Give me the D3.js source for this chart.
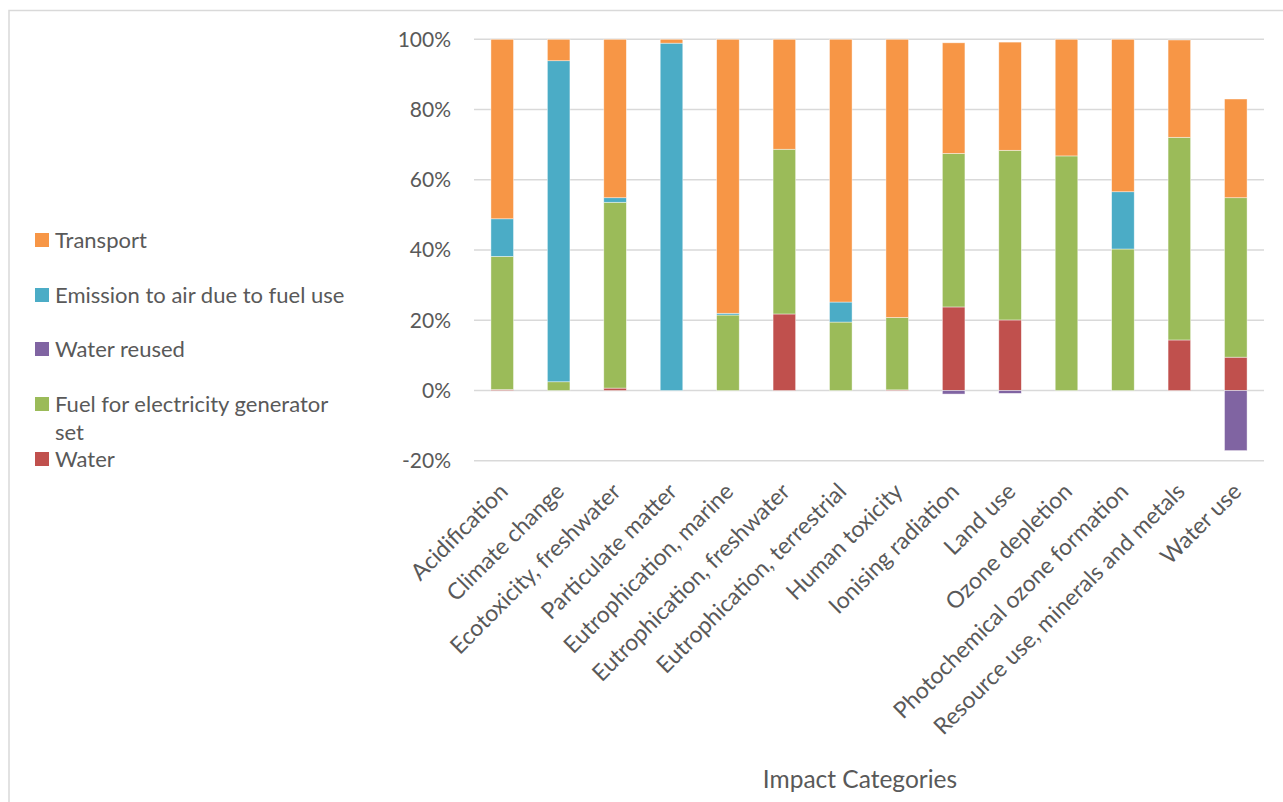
<!DOCTYPE html>
<html>
<head>
<meta charset="utf-8">
<script src="https://cdn.jsdelivr.net/npm/d3@7"></script>
<style>
  body { margin: 0; background: #fff; }
  svg text { font-family: Lato, "Open Sans", sans-serif; fill: #595959; }
</style>
</head>
<body>
<svg id="chart"></svg>
<script>
// impact categories (x axis)
var categories = ["Acidification", "Climate change", "Ecotoxicity, freshwater", "Particulate matter",
  "Eutrophication, marine", "Eutrophication, freshwater", "Eutrophication, terrestrial", "Human toxicity",
  "Ionising radiation", "Land use", "Ozone depletion", "Photochemical ozone formation",
  "Resource use, minerals and metals", "Water use"];

// contribution shares in %
var water       = [0.3, 0, 0.7, 0, 0, 21.8, 0, 0.2, 23.8, 20.1, 0, 0, 14.4, 9.5];
var fuel        = [37.9, 2.5, 52.9, 0, 21.5, 46.9, 19.5, 20.6, 43.7, 48.3, 66.8, 40.3, 57.7, 45.4];
var waterReused = [0, 0, 0, 0, 0, 0, 0, 0, -1.0, -0.8, 0, 0, 0, -17.1];
var emission    = [10.7, 91.4, 1.3, 98.9, 0.5, 0, 5.7, 0, 0, 0, 0, 16.3, 0, 0];
var transport   = [51.1, 6.1, 45.1, 1.1, 78.0, 31.3, 74.8, 79.2, 31.5, 30.8, 33.2, 43.4, 27.7, 28.1];

var seriesNames = ["Water", "Fuel for electricity generator set", "Water reused", "Emission to air due to fuel use", "Transport"];
var seriesColors = ["#C0504D", "#9BBB59", "#8064A2", "#4BACC6", "#F79646"];
var yTicks = [-20, 0, 20, 40, 60, 80, 100];

var width = 1283, height = 802;
var plotLeft = 474, plotRight = 1264;

var svg = d3.select("#chart").attr("width", width).attr("height", height);

// outer frame of the chart box
svg.append("path")
   .attr("d", "M9," + (height + 5) + " V10.5 H" + (width + 5))
   .attr("fill", "none")
   .attr("stroke", "#d9d9d9")
   .attr("stroke-width", 1.5);

// table for the stack
var rows = categories.map(function(c, i) {
  return { cat: c, s0: water[i], s1: fuel[i], s2: waterReused[i], s3: emission[i], s4: transport[i] };
});
var keys = ["s0", "s1", "s2", "s3", "s4"];
var stacked = d3.stack().keys(keys).offset(d3.stackOffsetDiverging)(rows);

var xScale = d3.scaleBand()
  .domain(categories)
  .range([plotLeft, plotRight])
  .paddingInner(0.6)
  .paddingOuter(0.3);

var yScale = d3.scaleLinear()
  .domain([-20, 100])
  .range([460.8, 39.3]);

// gridlines
svg.append("g")
   .selectAll("line")
   .data(yTicks)
   .enter()
   .append("line")
   .attr("x1", plotLeft)
   .attr("x2", plotRight)
   .attr("y1", function(d) { return yScale(d); })
   .attr("y2", function(d) { return yScale(d); })
   .attr("stroke", "#d9d9d9")
   .attr("stroke-width", 1.5);

// y axis labels
var yAxis = d3.axisLeft(yScale)
  .tickValues(yTicks)
  .tickSize(0)
  .tickPadding(23)
  .tickFormat(function(d) { return d + "%"; });

svg.append("g")
   .attr("transform", "translate(" + plotLeft + ",0)")
   .call(yAxis)
   .call(function(g) { g.select(".domain").remove(); })
   .selectAll("text")
   .style("font-size", "21px")
   .attr("fill", "#595959");

// bars
svg.append("g")
   .selectAll("g")
   .data(stacked)
   .enter()
   .append("g")
   .attr("fill", function(d, i) { return seriesColors[i]; })
   .selectAll("rect")
   .data(function(d) { return d.filter(function(p) { return p[1] !== p[0]; }); })
   .enter()
   .append("rect")
   .attr("x", function(d) { return xScale(d.data.cat); })
   .attr("width", xScale.bandwidth())
   .attr("y", function(d) { return yScale(Math.max(d[0], d[1])); })
   .attr("height", function(d) { return Math.abs(yScale(d[0]) - yScale(d[1])); })
   .attr("stroke", "#ffffff")
   .attr("stroke-opacity", 0.6)
   .attr("stroke-width", 0.7);

// category labels, rotated
svg.append("g")
   .selectAll("text")
   .data(categories)
   .enter()
   .append("text")
   .attr("transform", function(d) {
     var cx = xScale(d) + xScale.bandwidth() / 2 + 7;
     return "translate(" + cx + ",493) rotate(-45)";
   })
   .attr("text-anchor", "end")
   .style("font-size", "23px")
   .text(function(d) { return d; });

// axis title
svg.append("text")
   .attr("x", 860)
   .attr("y", 788)
   .attr("text-anchor", "middle")
   .style("font-size", "24.5px")
   .text("Impact Categories");

// legend (reverse order of the stack)
var legendItems = [
  { idx: 4, y: 240, lines: ["Transport"] },
  { idx: 3, y: 295, lines: ["Emission to air due to fuel use"] },
  { idx: 2, y: 349, lines: ["Water reused"] },
  { idx: 1, y: 404, lines: ["Fuel for electricity generator", "set"] },
  { idx: 0, y: 459, lines: ["Water"] }
];

var legend = svg.append("g")
  .selectAll("g")
  .data(legendItems)
  .enter()
  .append("g")
  .attr("transform", function(d) { return "translate(35," + d.y + ")"; });

legend.append("rect")
  .attr("x", 0)
  .attr("y", -7)
  .attr("width", 14)
  .attr("height", 14)
  .attr("fill", function(d) { return seriesColors[d.idx]; });

legend.append("text")
  .attr("x", 20)
  .attr("y", 8)
  .style("font-size", "22px")
  .selectAll("tspan")
  .data(function(d) { return d.lines; })
  .enter()
  .append("tspan")
  .attr("x", 20)
  .attr("dy", function(d, i) { return i === 0 ? 0 : 28; })
  .text(function(d) { return d; });
</script>
</body>
</html>
